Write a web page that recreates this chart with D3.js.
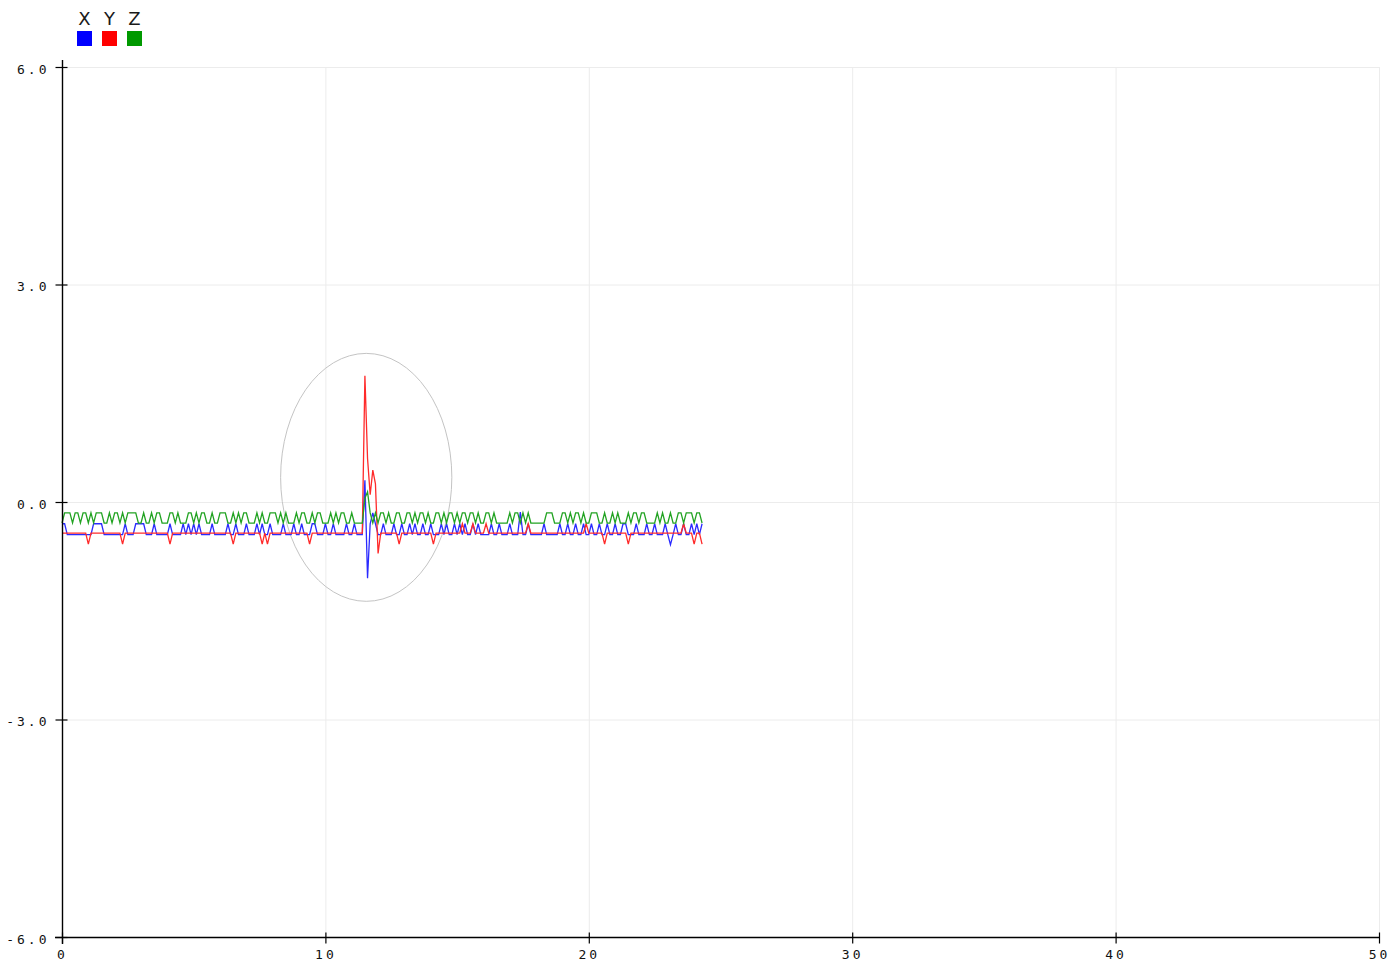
<!DOCTYPE html>
<html>
<head>
<meta charset="utf-8">
<script src="https://cdn.jsdelivr.net/npm/d3@7"></script>
<style>
  html, body { margin: 0; padding: 0; background: #fff; }
  svg { display: block; }
</style>
</head>
<body>
<svg id="chart" width="1396" height="962"></svg>
<script>
// ---- data ----
const seriesNames = ["X", "Y", "Z"];
const seriesColors = ["#0000ff", "#ff0000", "#009900"];
const lineColors = ["#2a2aff", "#ff2a2a", "#22a322"];
const startTime = 0;
const sampleStep = 0.1;

const xTicks = [0, 10, 20, 30, 40, 50];
const yTicks = [-6, -3, 0, 3, 6];

const xValues = [
-0.30,-0.30,-0.45,-0.45,-0.45,-0.45,-0.45,-0.45,-0.45,-0.45,
-0.45,-0.45,-0.30,-0.30,-0.30,-0.30,-0.45,-0.45,-0.45,-0.45,
-0.45,-0.45,-0.45,-0.45,-0.30,-0.45,-0.45,-0.45,-0.30,-0.30,
-0.30,-0.30,-0.45,-0.45,-0.45,-0.30,-0.45,-0.45,-0.45,-0.45,
-0.45,-0.30,-0.45,-0.45,-0.45,-0.45,-0.30,-0.45,-0.30,-0.45,
-0.30,-0.45,-0.30,-0.45,-0.45,-0.45,-0.45,-0.30,-0.45,-0.45,
-0.45,-0.45,-0.45,-0.30,-0.45,-0.45,-0.30,-0.45,-0.45,-0.45,
-0.30,-0.45,-0.45,-0.45,-0.30,-0.45,-0.30,-0.45,-0.45,-0.30,
-0.45,-0.45,-0.45,-0.45,-0.30,-0.45,-0.45,-0.45,-0.30,-0.45,
-0.45,-0.30,-0.45,-0.45,-0.45,-0.30,-0.30,-0.45,-0.45,-0.45,
-0.30,-0.45,-0.45,-0.30,-0.45,-0.45,-0.45,-0.45,-0.30,-0.45,
-0.45,-0.30,-0.45,-0.45,-0.45, 0.30,-1.05,-0.30,-0.15,-0.30,
-0.45,-0.45,-0.30,-0.45,-0.45,-0.45,-0.30,-0.45,-0.45,-0.30,
-0.45,-0.45,-0.30,-0.45,-0.30,-0.45,-0.45,-0.30,-0.45,-0.45,
-0.30,-0.45,-0.45,-0.45,-0.30,-0.45,-0.30,-0.45,-0.45,-0.30,
-0.45,-0.30,-0.45,-0.30,-0.45,-0.45,-0.30,-0.45,-0.30,-0.45,
-0.45,-0.45,-0.45,-0.30,-0.45,-0.45,-0.30,-0.45,-0.45,-0.45,
-0.30,-0.45,-0.45,-0.45,-0.14,-0.45,-0.45,-0.30,-0.45,-0.45,
-0.45,-0.45,-0.45,-0.30,-0.45,-0.45,-0.45,-0.45,-0.45,-0.30,
-0.45,-0.45,-0.30,-0.45,-0.45,-0.30,-0.45,-0.45,-0.30,-0.45,
-0.45,-0.30,-0.45,-0.45,-0.30,-0.45,-0.45,-0.30,-0.45,-0.45,
-0.30,-0.45,-0.45,-0.30,-0.30,-0.45,-0.45,-0.45,-0.30,-0.45,
-0.45,-0.45,-0.30,-0.45,-0.45,-0.30,-0.45,-0.45,-0.45,-0.30,
-0.45,-0.59,-0.45,-0.30,-0.45,-0.45,-0.30,-0.45,-0.45,-0.30,
-0.45,-0.30,-0.45,-0.30
];

const yValues = [
-0.43,-0.43,-0.43,-0.43,-0.43,-0.43,-0.43,-0.43,-0.43,-0.43,
-0.58,-0.43,-0.43,-0.43,-0.43,-0.43,-0.43,-0.43,-0.43,-0.43,
-0.43,-0.43,-0.43,-0.58,-0.43,-0.43,-0.43,-0.43,-0.43,-0.43,
-0.43,-0.43,-0.43,-0.43,-0.43,-0.43,-0.43,-0.43,-0.43,-0.43,
-0.43,-0.58,-0.43,-0.43,-0.43,-0.43,-0.43,-0.43,-0.43,-0.43,
-0.43,-0.43,-0.43,-0.43,-0.43,-0.43,-0.43,-0.43,-0.43,-0.43,
-0.43,-0.43,-0.43,-0.43,-0.43,-0.58,-0.43,-0.43,-0.43,-0.43,
-0.43,-0.43,-0.43,-0.43,-0.43,-0.43,-0.58,-0.43,-0.58,-0.43,
-0.43,-0.43,-0.43,-0.43,-0.43,-0.43,-0.43,-0.43,-0.43,-0.43,
-0.43,-0.43,-0.43,-0.43,-0.58,-0.43,-0.43,-0.43,-0.43,-0.43,
-0.43,-0.43,-0.43,-0.43,-0.43,-0.43,-0.43,-0.43,-0.43,-0.43,
-0.43,-0.43,-0.43,-0.43,-0.43, 1.74, 0.60, 0.10, 0.44, 0.25,
-0.71,-0.43,-0.43,-0.43,-0.43,-0.43,-0.43,-0.43,-0.58,-0.43,
-0.43,-0.43,-0.43,-0.43,-0.43,-0.43,-0.43,-0.43,-0.43,-0.43,
-0.43,-0.58,-0.43,-0.43,-0.43,-0.43,-0.43,-0.43,-0.43,-0.43,
-0.43,-0.43,-0.30,-0.43,-0.43,-0.43,-0.30,-0.43,-0.43,-0.43,
-0.43,-0.30,-0.43,-0.43,-0.43,-0.43,-0.43,-0.43,-0.43,-0.43,
-0.43,-0.43,-0.43,-0.43,-0.43,-0.43,-0.43,-0.30,-0.43,-0.43,
-0.43,-0.43,-0.43,-0.43,-0.43,-0.43,-0.43,-0.43,-0.43,-0.43,
-0.43,-0.43,-0.43,-0.43,-0.43,-0.43,-0.43,-0.43,-0.43,-0.30,
-0.43,-0.43,-0.43,-0.43,-0.43,-0.43,-0.58,-0.43,-0.43,-0.43,
-0.43,-0.43,-0.43,-0.43,-0.43,-0.58,-0.43,-0.43,-0.43,-0.43,
-0.43,-0.43,-0.43,-0.43,-0.43,-0.43,-0.43,-0.43,-0.43,-0.43,
-0.43,-0.43,-0.43,-0.43,-0.43,-0.43,-0.30,-0.43,-0.43,-0.43,
-0.58,-0.43,-0.43,-0.58
];

const zValues = [
-0.29,-0.15,-0.15,-0.15,-0.29,-0.15,-0.15,-0.29,-0.15,-0.15,
-0.29,-0.15,-0.29,-0.15,-0.15,-0.15,-0.29,-0.29,-0.15,-0.29,
-0.15,-0.15,-0.29,-0.15,-0.29,-0.15,-0.15,-0.15,-0.15,-0.29,
-0.29,-0.15,-0.29,-0.29,-0.15,-0.29,-0.15,-0.15,-0.29,-0.29,
-0.29,-0.15,-0.15,-0.29,-0.15,-0.29,-0.29,-0.29,-0.15,-0.15,
-0.29,-0.15,-0.29,-0.15,-0.15,-0.29,-0.29,-0.15,-0.29,-0.29,
-0.15,-0.15,-0.15,-0.29,-0.29,-0.15,-0.29,-0.15,-0.29,-0.15,
-0.15,-0.29,-0.29,-0.29,-0.15,-0.29,-0.15,-0.29,-0.29,-0.15,
-0.15,-0.15,-0.29,-0.15,-0.29,-0.15,-0.29,-0.29,-0.29,-0.15,
-0.29,-0.15,-0.15,-0.29,-0.29,-0.15,-0.29,-0.15,-0.15,-0.29,
-0.29,-0.29,-0.15,-0.29,-0.15,-0.29,-0.15,-0.15,-0.29,-0.29,
-0.15,-0.29,-0.29,-0.29,-0.29, 0.05, 0.14,-0.15,-0.29,-0.15,
-0.29,-0.15,-0.15,-0.29,-0.15,-0.29,-0.29,-0.15,-0.15,-0.29,
-0.29,-0.15,-0.15,-0.29,-0.15,-0.29,-0.15,-0.15,-0.29,-0.15,
-0.29,-0.29,-0.15,-0.15,-0.29,-0.15,-0.29,-0.15,-0.15,-0.29,
-0.15,-0.29,-0.15,-0.15,-0.29,-0.15,-0.15,-0.29,-0.15,-0.29,
-0.29,-0.15,-0.15,-0.29,-0.15,-0.29,-0.29,-0.29,-0.29,-0.29,
-0.15,-0.29,-0.15,-0.15,-0.29,-0.15,-0.29,-0.15,-0.29,-0.29,
-0.29,-0.29,-0.29,-0.29,-0.15,-0.15,-0.15,-0.29,-0.29,-0.29,
-0.15,-0.15,-0.29,-0.15,-0.29,-0.15,-0.15,-0.29,-0.15,-0.29,
-0.29,-0.15,-0.15,-0.15,-0.29,-0.29,-0.15,-0.29,-0.29,-0.15,
-0.29,-0.15,-0.29,-0.29,-0.29,-0.15,-0.29,-0.15,-0.15,-0.29,
-0.15,-0.15,-0.29,-0.29,-0.29,-0.29,-0.15,-0.29,-0.15,-0.29,
-0.29,-0.15,-0.29,-0.29,-0.15,-0.15,-0.29,-0.15,-0.15,-0.15,
-0.29,-0.15,-0.15,-0.29
];

// highlight ellipse (data units): centre time, centre value, radius in time, radius in value
const ellipseCenter = [11.55, 0.34];
const ellipseRadii = [3.25, 1.71];

// ---- drawing ----
const svg = d3.select("#chart");
const x = d3.scaleLinear().domain([0, 50]).range([62, 1379]);
const y = d3.scaleLinear().domain([-6, 6]).range([937, 67]);

// grid
const grid = svg.append("g");
grid.selectAll("line.vg").data(xTicks).join("line")
  .attr("x1", d => x(d) + 0.5).attr("x2", d => x(d) + 0.5)
  .attr("y1", y(6)).attr("y2", y(-6))
  .attr("stroke", "#ececec").attr("stroke-width", 1);
grid.selectAll("line.hg").data(yTicks).join("line")
  .attr("x1", x(0)).attr("x2", x(50))
  .attr("y1", d => y(d) + 0.5).attr("y2", d => y(d) + 0.5)
  .attr("stroke", "#ececec").attr("stroke-width", 1);

// ellipse
svg.append("ellipse")
  .attr("cx", x(ellipseCenter[0]))
  .attr("cy", y(ellipseCenter[1]))
  .attr("rx", x(ellipseRadii[0]) - x(0))
  .attr("ry", y(0) - y(ellipseRadii[1]))
  .attr("fill", "none")
  .attr("stroke", "#c4c4c4")
  .attr("stroke-width", 1);

// lines
const series = [xValues, yValues, zValues];
const line = d3.line()
  .x((d, i) => x(startTime + i * sampleStep))
  .y(d => y(d));
series.forEach((vals, k) => {
  svg.append("path")
    .datum(vals)
    .attr("fill", "none")
    .attr("stroke", lineColors[k])
    .attr("stroke-width", 1.3)
    .attr("stroke-linejoin", "miter")
    .attr("d", line);
});

// axes
const fmtY = d => d.toFixed(1);
const labelFont = "'DejaVu Sans Mono', monospace";
const yAxis = svg.append("g")
  .attr("transform", `translate(${x(0) + 0.5},0)`)
  .call(d3.axisLeft(y).tickValues(yTicks).tickFormat(fmtY).tickSize(7).tickSizeOuter(0));
yAxis.select(".domain").attr("d", `M0,${y(6) - 7}V${y(-6) + 7}`).attr("stroke", "#000").attr("stroke-width", 1.4);
yAxis.selectAll(".tick line").attr("x1", 5).attr("stroke", "#000").attr("stroke-width", 1.2);
yAxis.selectAll(".tick text")
  .attr("x", -13).attr("dy", "0.32em").attr("y", 2)
  .style("font-family", labelFont)
  .style("font-size", "13px")
  .style("letter-spacing", "3px")
  .attr("fill", "#111");

const xAxis = svg.append("g")
  .attr("transform", `translate(0,${y(-6) + 0.5})`)
  .call(d3.axisBottom(x).tickValues(xTicks).tickFormat(d3.format("d")).tickSize(6).tickSizeOuter(0));
xAxis.select(".domain").attr("d", `M${x(0) - 7},0H${x(50) + 1}`).attr("stroke", "#000").attr("stroke-width", 1.4);
xAxis.selectAll(".tick line").attr("y1", -5).attr("stroke", "#000").attr("stroke-width", 1.2);
xAxis.selectAll(".tick text")
  .attr("y", 21).attr("dy", 0)
  .style("font-family", labelFont)
  .style("font-size", "13px")
  .style("letter-spacing", "3px")
  .attr("fill", "#111");

// legend
const legend = svg.append("g");
const lg = legend.selectAll("g").data(seriesNames).join("g")
  .attr("transform", (d, i) => `translate(${77 + i * 25},0)`);
lg.append("text")
  .attr("x", 7.5).attr("y", 25)
  .attr("text-anchor", "middle")
  .style("font-family", "'DejaVu Sans', sans-serif")
  .style("font-size", "18px")
  .attr("fill", "#1a1a1a")
  .text(d => d);
lg.append("rect")
  .attr("x", 0).attr("y", 31).attr("width", 15).attr("height", 15)
  .attr("fill", (d, i) => seriesColors[i]);
</script>
</body>
</html>
